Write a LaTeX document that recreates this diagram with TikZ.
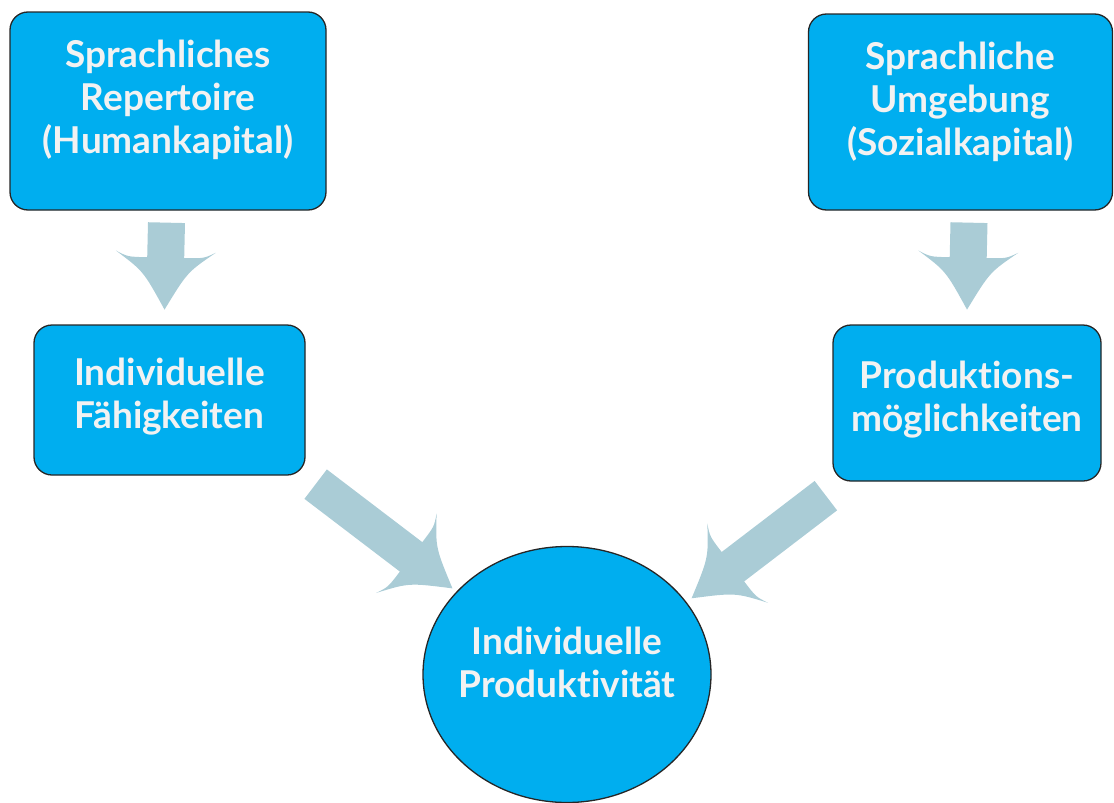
\documentclass[tikz,border=0pt]{standalone}
\usepackage{fontspec}
\setmainfont{Lato}[Ligatures=NoCommon]
\usetikzlibrary{shapes.geometric}
\definecolor{boxblue}{HTML}{00AEEF}
\definecolor{arrowblue}{HTML}{AACCD6}
\definecolor{textwhite}{HTML}{F2F2F2}
\tikzset{
  box/.style={draw=black!85, line width=1.3pt, fill=boxblue, rounded corners=18pt, inner sep=0pt},
  boxtext/.style={text=textwhite, font=\bfseries\fontsize{37}{43}\selectfont, align=center},
  pics/fatarrow/.style={code={
    \fill[arrowblue] (0,18.5) -- ({#1-52},18.5) .. controls ({#1-52},38) .. ({#1-58},50)
      .. controls ({#1-38},22) .. (#1,0) .. controls ({#1-38},-22) .. ({#1-58},-50)
      .. controls ({#1-52},-38) .. ({#1-52},-18.5) -- (0,-18.5) -- cycle;
  }}
}
\begin{document}
\begin{tikzpicture}[x=1pt, y=1pt]
  \useasboundingbox (0,0) rectangle (1114,-803);
  \node[box, minimum width=316pt, minimum height=198pt] (rep) at (168,-111) {};
  \node[box, minimum width=304pt, minimum height=196pt] (umg) at (960.5,-112) {};
  \node[box, minimum width=271pt, minimum height=150pt] (faeh) at (169.5,-400) {};
  \node[box, minimum width=268pt, minimum height=156pt] (prod) at (967,-403) {};
  \node[box, ellipse, minimum width=288pt, minimum height=256pt] (prodk) at (567,-674.5) {};

  \node[boxtext] (reptext) at ([yshift=11pt]rep.center) {Sprachliches\\Repertoire\\(Humankapital)};
  \node[boxtext] (umgtext) at ([yshift=10pt]umg.center) {Sprachliche\\Umgebung\\(Sozialkapital)};
  \node[boxtext] (faehtext) at ([yshift=3pt]faeh.center) {Individuelle\\Fähigkeiten};
  \node[boxtext] (prodtext) at ([yshift=3pt]prod.center) {Produktions-\\möglichkeiten};
  \node[boxtext] (prodktext) at ([yshift=12pt]prodk.center) {Individuelle\\Produktivität};

  \coordinate (a1) at ([shift={(-1.5,-12)}]rep.south);
  \coordinate (a2) at ([shift={(8.5,-12)}]umg.south);
  \coordinate (a3) at ([shift={(10,-8.5)}]faeh.south east);
  \coordinate (a4) at ([shift={(-6.5,-14)}]prod.south west);
  \pic[rotate=-91.3] at (a1) {fatarrow=87};
  \pic[rotate=-91.3] at (a2) {fatarrow=87};
  \pic[rotate=-37.3] at (a3) {fatarrow=172};
  \pic[rotate=-142.6] at (a4) {fatarrow=169};
\end{tikzpicture}
\end{document}
